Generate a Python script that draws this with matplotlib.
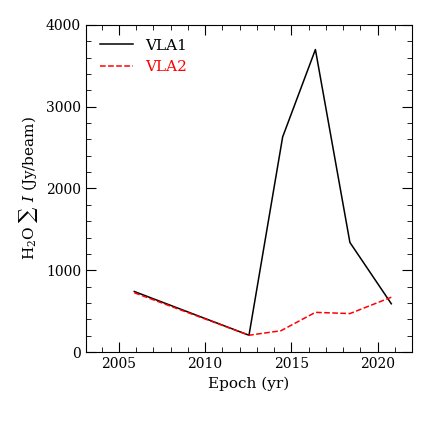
import matplotlib
matplotlib.use("Agg")
import matplotlib.pyplot as plt
from matplotlib.ticker import MultipleLocator

epoch = [2005.9, 2012.55, 2014.5, 2016.4, 2018.4, 2020.8]
vla1 = [740, 205, 2630, 3700, 1340, 590]
epoch2 = [2005.9, 2012.55, 2014.4, 2016.4, 2018.4, 2020.8]
vla2 = [725, 205, 260, 485, 470, 670]

plt.rcParams["font.family"] = "DejaVu Serif"
plt.rcParams["mathtext.fontset"] = "dejavuserif"

fig = plt.figure(figsize=(4.36, 4.36), dpi=100)
ax = fig.add_axes([86 / 436, 84 / 436, 326 / 436, 327 / 436])
ax.plot(epoch, vla1, color="black", lw=1.1, label="VLA1")
ax.plot(epoch2, vla2, color="red", lw=1.1, ls="--", label="VLA2")
ax.set_xlim(2003.1, 2022.0)
ax.set_ylim(0, 4000)
ax.xaxis.set_major_locator(MultipleLocator(5))
ax.xaxis.set_minor_locator(MultipleLocator(1))
ax.yaxis.set_major_locator(MultipleLocator(1000))
ax.yaxis.set_minor_locator(MultipleLocator(200))
ax.tick_params(which="both", direction="in", top=True, right=True, labelsize=10)
ax.tick_params(which="major", length=7)
ax.tick_params(which="minor", length=3.5)
ax.set_xlabel("Epoch (yr)", fontsize=11)
ax.set_ylabel(r"H$_2$O $\sum$ $I$ (Jy/beam)", fontsize=11)
leg = ax.legend(loc="upper left", frameon=False, fontsize=11, handlelength=2.2)
for t, c in zip(leg.get_texts(), ["black", "red"]):
    t.set_color(c)
fig.savefig("out.png", dpi=100)
